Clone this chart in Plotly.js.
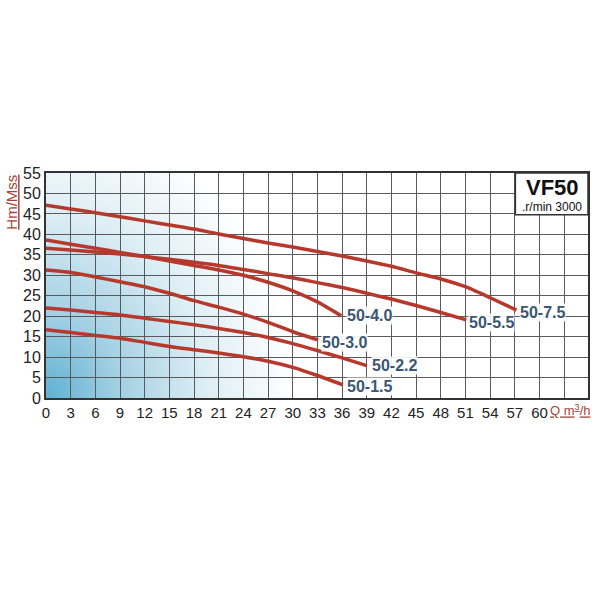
<!DOCTYPE html>
<html>
<head>
<meta charset="utf-8">
<script src="https://cdn.plot.ly/plotly-3.0.1.min.js"></script>
<style>
  html, body {margin: 0; padding: 0; background: #fff;}
  #chart {width: 592px; height: 592px;}
</style>
</head>
<body>
<div id="chart"></div>
<script>

// pump curves, Q (m3/h) against H (m)
var q_75 = [0, 3, 6, 9, 12, 15, 18, 21, 24, 27, 30, 33, 36, 39, 42, 45, 48, 51, 54, 57.2]
var h_75 = [47.1, 46.2, 45.3, 44.3, 43.3, 42.3, 41.3, 40.1, 39.0, 37.9, 36.9, 35.8, 34.7, 33.5, 32.2, 30.6, 29.1, 27.2, 24.5, 21.5]

var q_55 = [0, 3, 6, 9, 12, 15, 18, 21, 24, 27, 30, 33, 36, 39, 42, 45, 48, 51.1]
var h_55 = [36.6, 36.2, 35.7, 35.2, 34.6, 33.9, 33.2, 32.4, 31.4, 30.4, 29.4, 28.2, 27.0, 25.6, 24.2, 22.6, 20.9, 19.1]

var q_40 = [0, 3, 6, 9, 12, 15, 18, 21, 24, 27, 30, 33, 35.9]
var h_40 = [38.6, 37.6, 36.6, 35.6, 34.6, 33.5, 32.4, 31.3, 30.0, 28.3, 26.2, 23.5, 20.1]

var q_30 = [0, 3, 6, 9, 12, 15, 18, 21, 24, 27, 30, 33.1]
var h_30 = [31.3, 30.7, 29.6, 28.4, 27.2, 25.6, 23.8, 22.2, 20.5, 18.5, 16.2, 14.2]

var q_22 = [0, 3, 6, 9, 12, 15, 18, 21, 24, 27, 30, 33, 36, 39]
var h_22 = [22.0, 21.5, 20.9, 20.3, 19.5, 18.7, 17.9, 17.0, 16.0, 14.8, 13.3, 11.6, 9.8, 7.9]

var q_15 = [0, 3, 6, 9, 12, 15, 18, 21, 24, 27, 30, 33, 36.1]
var h_15 = [16.7, 16.0, 15.3, 14.6, 13.6, 12.6, 11.8, 11.0, 10.1, 9.0, 7.5, 5.5, 3.2]

var models = ['50-7.5', '50-5.5', '50-4.0', '50-3.0', '50-2.2', '50-1.5']
var labelQ = [57.5, 51.3, 36.5, 33.4, 39.5, 36.5]
var labelH = [21.0, 18.4, 20.1, 13.5, 7.9, 2.8]

var xTicks = [0, 3, 6, 9, 12, 15, 18, 21, 24, 27, 30, 33, 36, 39, 42, 45, 48, 51, 54, 57, 60, 63]
var xTickText = ['0', '3', '6', '9', '12', '15', '18', '21', '24', '27', '30', '33', '36', '39', '42', '45', '48', '51', '54', '57', '60', '']
var yTicks = [0, 5, 10, 15, 20, 25, 30, 35, 40, 45, 50, 55]


var FONT = '"Liberation Sans Narrow", "Liberation Sans", Arial, sans-serif'
var RED = '#b5392d'
var BLUE = '#3a5672'
var AXRED = '#a4473b'

// blue corner shading behind the grid
function cornerGradient() {
    var c = document.createElement('canvas')
    c.width = 542
    c.height = 225
    var ctx = c.getContext('2d')
    // stretch a little upward so the left edge keeps a tint
    ctx.translate(0, 225)
    ctx.scale(1, 1.15)
    var g = ctx.createRadialGradient(0, 0, 0, 0, 0, 290)
    g.addColorStop(0, '#5fb1d3')
    g.addColorStop(0.25, '#a2d0e4')
    g.addColorStop(0.55, '#ddeef5')
    g.addColorStop(0.85, '#ffffff')
    ctx.fillStyle = g
    ctx.fillRect(0, -225, 542, 225)
    return c.toDataURL('image/png')
}

var xs = [q_75, q_55, q_40, q_30, q_22, q_15]
var ys = [h_75, h_55, h_40, h_30, h_22, h_15]

var data = []
for (var i=0;i<models.length;i++) {
    data.push({
        type: 'scatter',
        mode: 'lines',
        x: xs[i],
        y: ys[i],
        name: models[i],
        line: {color: RED, width: 3.5, shape: 'spline', smoothing: 0.6},
        hoverinfo: 'x+y+name',
    })
}

var annotations = []
for (var i=0;i<models.length;i++) {
    annotations.push({
        x: labelQ[i], y: labelH[i], xref: 'x', yref: 'y',
        text: models[i], showarrow: false,
        xanchor: 'left', yanchor: 'middle',
        font: {family: FONT, size: 16, color: BLUE, weight: 'bold'},
        bgcolor: 'rgba(255,255,255,0.9)', borderpad: 0,
    })
}

// box title
annotations.push({
    x: 0.934, y: 0.937, xref: 'paper', yref: 'paper',
    text: '<b>VF50</b>', showarrow: false, xanchor: 'center', yanchor: 'middle',
    font: {family: FONT, size: 22, color: '#111'},
    borderpad: 0,
})
annotations.push({
    x: 0.934, y: 0.848, xref: 'paper', yref: 'paper',
    text: '.r/min 3000', showarrow: false, xanchor: 'center', yanchor: 'middle',
    font: {family: FONT, size: 12, color: '#111'},
    borderpad: 0,
})

// axis names
annotations.push({
    x: -0.063, y: 0.872, xref: 'paper', yref: 'paper',
    text: '<u>Hm/Mss</u>', showarrow: false, textangle: -90,
    xanchor: 'center', yanchor: 'middle',
    font: {family: FONT, size: 15, color: AXRED},
})
annotations.push({
    x: 1.006, y: -0.052, xref: 'paper', yref: 'paper',
    text: '<u>Q m<sup>3</sup>/h</u>', showarrow: false,
    xanchor: 'right', yanchor: 'middle',
    font: {family: FONT, size: 13, color: AXRED},
    borderpad: 0,
})

var layout = {
    width: 592,
    height: 592,
    showlegend: false,
    paper_bgcolor: '#fff',
    plot_bgcolor: 'rgba(0,0,0,0)',
    margin: {l: 46, r: 4, t: 173, b: 194},
    xaxis: {
        range: [0, 65.9],
        tickvals: xTicks,
        ticktext: xTickText,
        showgrid: true,
        gridcolor: '#5a5a5a',
        gridwidth: 1,
        zeroline: false,
        showline: true,
        mirror: true,
        linecolor: '#333',
        linewidth: 2,
        ticks: '',
        tickfont: {family: FONT, size: 15, color: '#222'},
        fixedrange: true,
    },
    yaxis: {
        range: [0, 55],
        tickvals: yTicks,
        showgrid: true,
        gridcolor: '#5a5a5a',
        gridwidth: 1,
        zeroline: false,
        showline: true,
        mirror: true,
        linecolor: '#333',
        linewidth: 2,
        ticks: '',
        tickfont: {family: FONT, size: 16, color: '#222'},
        fixedrange: true,
    },
    images: [{
        source: cornerGradient(),
        xref: 'paper', yref: 'paper',
        x: 0, y: 1, sizex: 1, sizey: 1,
        xanchor: 'left', yanchor: 'top',
        sizing: 'stretch', layer: 'below',
    }],
    shapes: [{
        type: 'rect', xref: 'paper', yref: 'paper',
        x0: 0.866, x1: 1.0, y0: 0.815, y1: 1.0,
        fillcolor: '#fff', line: {color: '#333', width: 1.5},
        layer: 'above',
    }],
    annotations: annotations,
}

Plotly.newPlot('chart', data, layout, {displayModeBar: false, staticPlot: true})
</script>
</body>
</html>
